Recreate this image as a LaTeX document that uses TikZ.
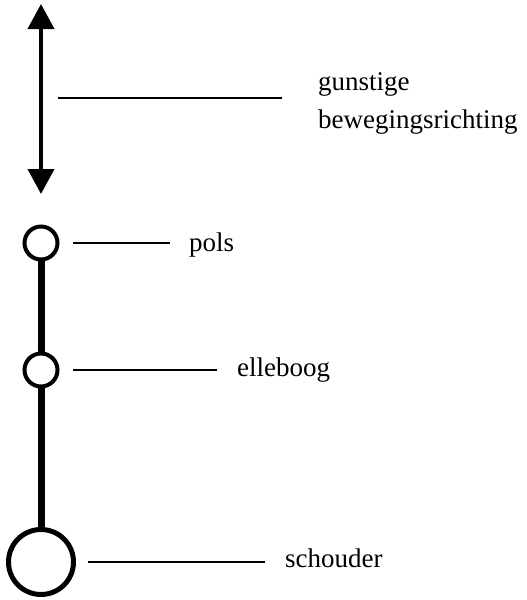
\documentclass[tikz,border=0pt]{standalone}
\usepackage{fontspec}
\setmainfont{Liberation Serif}
\usetikzlibrary{arrows.meta,backgrounds}
\begin{document}
\begin{tikzpicture}[x=1pt,y=-1pt,
  joint/.style={circle,draw,fill=white,line width=4pt,inner sep=0pt,outer sep=0pt,minimum size=33pt},
  bigjoint/.style={joint,line width=5pt,minimum size=65pt},
  rod/.style={line width=7pt},
  leader/.style={line width=1.4pt},
  lbl/.style={anchor=base west,inner sep=0pt,font=\fontsize{27}{38}\selectfont}]
\useasboundingbox (0,0) rectangle (527,600);
% movement direction
\coordinate (up) at (41,4);
\coordinate (down) at (41,194);
\draw[line width=4pt,{Triangle[width=26pt,length=25pt]}-{Triangle[width=26pt,length=25pt]}] (up) -- (down);
\coordinate (dirA) at (58,98);
\coordinate (dirB) at (282,98);
\draw[leader] (dirA) -- (dirB);
\node[lbl] (dirtxt1) at (318,90) {gunstige};
\node[lbl] (dirtxt2) at (318,128) {bewegingsrichting};
% arm joints, with the rod running behind them
\node[joint] (pols) at (41,243) {};
\node[joint] (elleboog) at (41,370) {};
\node[bigjoint] (schouder) at (41,562) {};
\begin{scope}[on background layer]
\draw[rod] (pols.center) -- (elleboog.center);
\draw[rod] (elleboog.center) -- (schouder.center);
\end{scope}
% labels
\coordinate (polsA) at (73,243);
\coordinate (polsB) at (170,243);
\draw[leader] (polsA) -- (polsB);
\node[lbl] (polstxt) at (189,251) {pols};
\coordinate (ellA) at (73,370);
\coordinate (ellB) at (217,370);
\draw[leader] (ellA) -- (ellB);
\node[lbl] (elltxt) at (237,376) {elleboog};
\coordinate (schA) at (88,562);
\coordinate (schB) at (265,562);
\draw[leader] (schA) -- (schB);
\node[lbl] (schtxt) at (285,567) {schouder};
\end{tikzpicture}
\end{document}
